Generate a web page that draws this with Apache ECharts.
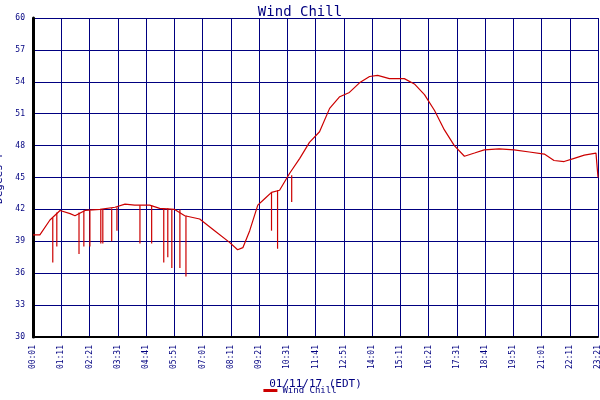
<!DOCTYPE html><html><head><meta charset="utf-8">
<script src="https://cdn.jsdelivr.net/npm/echarts@6/dist/echarts.min.js"></script>
<style>body{margin:0;background:#fff}#c{width:600px;height:400px}</style></head><body><div id="c"></div><script>
const times=[0,17,42,67,92,104,129,166,203,228,252,289,314,351,376,413,450,487,507,520,537,557,574,591,611,636,661,685,710,735,760,784,809,834,854,883,920,945,970,995,1019,1044,1069,1094,1118,1155,1192,1230,1267,1291,1316,1341,1366,1395,1398,1400];
const values=[39.6,39.6,41,41.9,41.6,41.4,41.9,42,42.2,42.5,42.4,42.4,42.1,42,41.4,41.1,40,38.9,38.2,38.4,40,42.4,43,43.6,43.8,45.4,46.8,48.3,49.3,51.5,52.6,53,53.9,54.5,54.6,54.3,54.3,53.8,52.8,51.3,49.5,48,47,47.3,47.6,47.7,47.6,47.4,47.2,46.6,46.5,46.8,47.1,47.3,47.3,45];
const spikeTimes=[49,59,114,126,141,168,173,195,208,265,294,324,334,344,364,379,591,606,641];
const spikeTops=[41.2,41.7,41.7,41.9,41.9,42,42,42.1,42.2,42.4,42.4,42.1,42.1,42,42,41.4,43.6,43.8,45.2];
const spikeLows=[37.0,38.5,37.8,38.5,38.5,38.8,38.8,39,40,38.8,38.8,37,37.5,36.5,36.5,35.7,40,38.3,42.7];
const yTicks=[30,33,36,39,42,45,48,51,54,57,60];
const F='"DejaVu Sans Mono", monospace', NAVY='#000080';
const fmt=v=>{const m=v+1;const h=Math.floor(m/60),mm=m%60;return String(h).padStart(2,'0')+':'+String(mm).padStart(2,'0');};
const chart=echarts.init(document.getElementById('c'));
chart.setOption({
 animation:false,backgroundColor:'#fff',
 title:{text:'Wind Chill',left:'center',top:0,textStyle:{color:NAVY,fontFamily:F,fontWeight:'normal',fontSize:14}},
 legend:{bottom:0,itemWidth:14,itemHeight:3,icon:'rect',textStyle:{color:NAVY,fontFamily:F,fontSize:9},data:['Wind Chill']},
 grid:{left:33,right:2,top:18,bottom:63,containLabel:false,outerBoundsMode:'none'},
 xAxis:{type:'value',min:0,max:1400,interval:70,name:'01/11/17 (EDT)',nameLocation:'middle',nameGap:42,
  nameTextStyle:{color:NAVY,fontFamily:F,fontSize:11},
  axisLine:{lineStyle:{color:'#000',width:2}},axisTick:{show:false},
  axisLabel:{rotate:90,color:NAVY,fontFamily:F,fontSize:8,formatter:fmt},
  splitLine:{show:true,lineStyle:{color:NAVY,width:1}}},
 yAxis:{type:'value',min:yTicks[0],max:yTicks[yTicks.length-1],interval:3,name:'Degees F',nameLocation:'middle',nameGap:24,
  nameTextStyle:{color:NAVY,fontFamily:F,fontSize:11},
  axisLine:{show:true,lineStyle:{color:'#000',width:3}},axisTick:{show:false},
  axisLabel:{color:NAVY,fontFamily:F,fontSize:8},
  splitLine:{show:true,lineStyle:{color:NAVY,width:1}}},
 series:[
  {name:'Wind Chill',type:'line',data:times.map((t,i)=>[t,values[i]]),showSymbol:false,lineStyle:{color:'#cc0000',width:1.2},itemStyle:{color:'#cc0000'}},
  {name:'Wind Chill',type:'custom',data:spikeTimes.map((t,i)=>[t,spikeTops[i],spikeLows[i]]),
   renderItem:(p,api)=>{const a=api.coord([api.value(0),api.value(1)]),b=api.coord([api.value(0),api.value(2)]);
    return {type:'line',shape:{x1:a[0],y1:a[1],x2:b[0],y2:b[1]},style:{stroke:'#cc0000',lineWidth:1.2}};}}
 ]
});
</script></body></html>
